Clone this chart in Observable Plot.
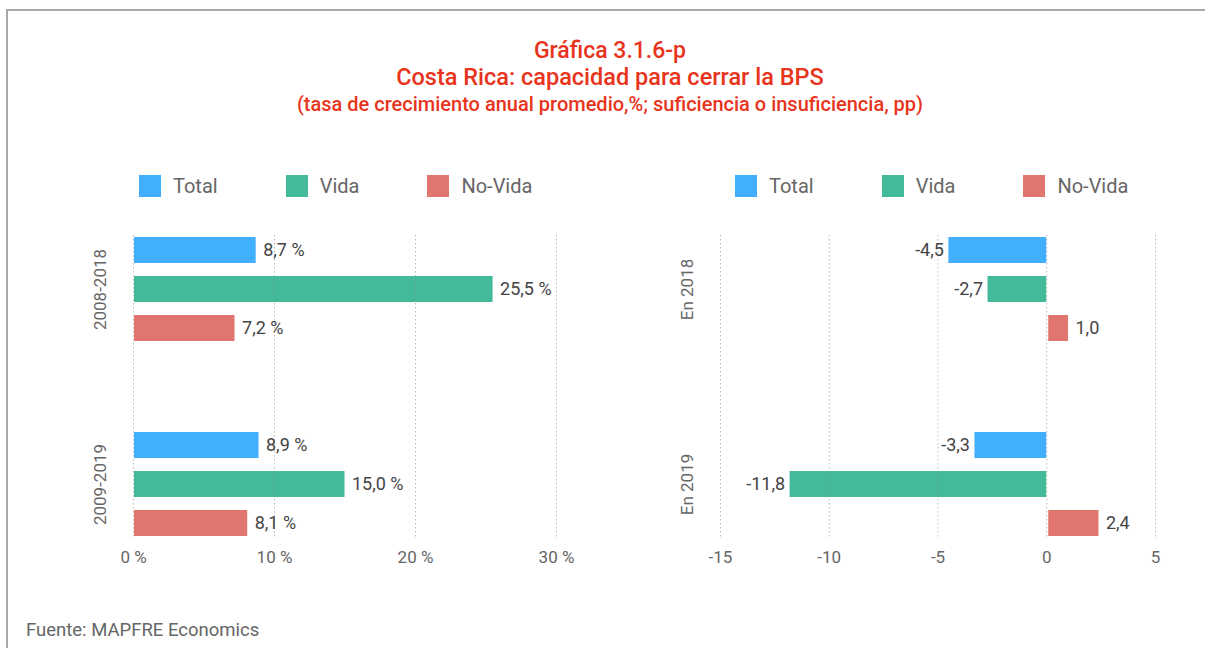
<!DOCTYPE html>
<html>
<head>
<meta charset="utf-8">
<script src="https://cdn.jsdelivr.net/npm/d3@7"></script>
<script src="https://cdn.jsdelivr.net/npm/@observablehq/plot@0.6"></script>
<style>
  body { margin: 0; width: 1205px; height: 648px; position: relative; overflow: hidden; background: #fff; font-family: Roboto, "Noto Sans", sans-serif; }
  #frame { position: absolute; left: 6px; top: 9px; width: 1220px; height: 700px; border-top: 2px solid #a8a8a8; border-left: 2px solid #a8a8a8; }
  .tl { position: absolute; left: 10px; width: 1200px; text-align: center; color: #e8341c; white-space: nowrap; font-weight: 500; }
  .legend { position: absolute; top: 175px; height: 22px; display: flex; align-items: center; font-size: 20px; color: #666; }
  .legend .item { display: flex; align-items: center; margin-right: 68px; }
  .legend .sw { width: 22px; height: 22px; margin-right: 12px; }
  .panel { position: absolute; top: 200px; }
  #caption { position: absolute; left: 26px; top: 621px; font-size: 18.5px; line-height: 18px; color: #666; }
</style>
</head>
<body>
<div id="frame"></div>
<div class="tl" id="t1" style="top:39px;font-size:23px;line-height:23px;"></div>
<div class="tl" id="t2" style="top:66px;font-size:23.5px;line-height:23.5px;"></div>
<div class="tl" id="t3" style="top:94px;font-size:20px;line-height:20px;"></div>
<div class="legend" id="legL" style="left:139px;"></div>
<div class="legend" id="legR" style="left:735px;"></div>
<div class="panel" id="pL" style="left:0px;"></div>
<div class="panel" id="pR" style="left:600px;"></div>
<div id="caption"></div>
<script>
// ---- Texts ----
const titleLines = ["Gráfica 3.1.6-p", "Costa Rica: capacidad para cerrar la BPS", "(tasa de crecimiento anual promedio,%; suficiencia o insuficiencia, pp)"];
const captionText = "Fuente: MAPFRE Economics";

// ---- Series ----
const series = ["Total", "Vida", "No-Vida"];
const colors = ["#41aefe", "#43bb9b", "#e1766f"];

// ---- Left panel: average annual growth (%) ----
const growthPeriods = ["2008-2018", "2009-2019"];
const growthTotal = [8.7, 8.9];
const growthVida = [25.5, 15.0];
const growthNoVida = [7.2, 8.1];
const growthTicks = [0, 10, 20, 30];

// ---- Right panel: sufficiency / insufficiency (pp) ----
const gapYears = ["En 2018", "En 2019"];
const gapTotal = [-4.5, -3.3];
const gapVida = [-2.7, -11.8];
const gapNoVida = [1.0, 2.4];
const gapTicks = [-15, -10, -5, 0, 5];

document.getElementById("t1").textContent = titleLines[0];
document.getElementById("t2").textContent = titleLines[1];
document.getElementById("t3").textContent = titleLines[2];
document.getElementById("caption").textContent = captionText;

function buildLegend(id) {
  const el = document.getElementById(id);
  series.forEach((s, i) => {
    const item = document.createElement("div");
    item.className = "item";
    const sw = document.createElement("div");
    sw.className = "sw";
    sw.style.background = colors[i];
    const tx = document.createElement("span");
    tx.textContent = s;
    item.appendChild(sw);
    item.appendChild(tx);
    el.appendChild(item);
  });
}
buildLegend("legL");
buildLegend("legR");

function toRows(groups, arrays) {
  return groups.flatMap((g, i) => series.map((s, j) => ({group: g, series: s, value: arrays[j][i]})));
}
const comma = v => v.toFixed(1).replace(".", ",");
const key = d => d.group + "|" + d.series;

function panel(rows, groups, cfg) {
  const yDomain = [
    ...series.map(s => groups[0] + "|" + s),
    "spacer-a", "spacer-b",
    ...series.map(s => groups[1] + "|" + s)
  ];
  return Plot.plot({
    width: cfg.width,
    height: 380,
    marginTop: 35,
    marginBottom: 41,
    marginLeft: cfg.marginLeft,
    marginRight: cfg.marginRight,
    style: {fontFamily: "Roboto, 'Noto Sans', sans-serif", fontSize: "17px", color: "#666", background: "transparent", overflow: "visible"},
    x: {domain: cfg.domain, ticks: cfg.ticks, tickFormat: cfg.tickFormat, tickSize: 0, tickPadding: 11, label: null},
    y: {domain: yDomain, paddingInner: 0.33, paddingOuter: 0, axis: null},
    color: {domain: series, range: colors},
    marks: [
      Plot.barX(rows, {filter: d => d.value < 0, x: "value", y: key, fill: "series"}),
      Plot.barX(rows, {filter: d => d.value >= 0, x: "value", y: key, fill: "series", insetLeft: cfg.posInset}),
      Plot.gridX(cfg.ticks, {stroke: "#888", strokeOpacity: 0.6, strokeDasharray: "1.5,2.5"}),
      Plot.text(rows, {filter: d => d.value >= 0, x: "value", y: key, text: d => cfg.labelFormat(d.value), textAnchor: "start", dx: 7, fill: "#444", fontSize: 18}),
      Plot.text(rows, {filter: d => d.value < 0, x: "value", y: key, text: d => cfg.labelFormat(d.value), textAnchor: "end", dx: -5, fill: "#444", fontSize: 18}),
      Plot.text(groups, {y: g => g + "|Vida", text: g => g, frameAnchor: "left", textAnchor: "middle", dx: -33, rotate: -90, fill: "#666", fontSize: 17})
    ]
  });
}

document.getElementById("pL").appendChild(panel(
  toRows(growthPeriods, [growthTotal, growthVida, growthNoVida]), growthPeriods,
  {width: 600, marginLeft: 133, marginRight: 44, domain: [0, 30], ticks: growthTicks, posInset: 1,
   tickFormat: d => d + " %", labelFormat: v => comma(v) + " %"}
));
document.getElementById("pR").appendChild(panel(
  toRows(gapYears, [gapTotal, gapVida, gapNoVida]), gapYears,
  {width: 605, marginLeft: 120, marginRight: 50, domain: [-15, 5], ticks: gapTicks, posInset: 2,
   tickFormat: d => String(d), labelFormat: v => comma(v)}
));
</script>
</body>
</html>
